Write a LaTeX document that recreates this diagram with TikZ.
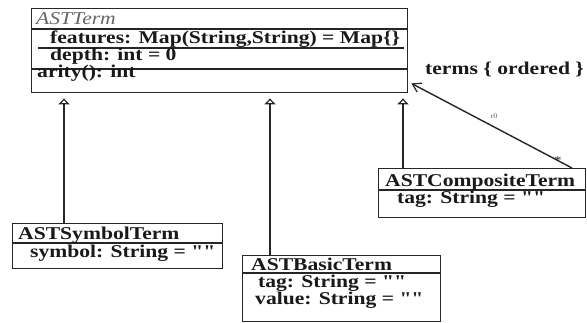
\documentclass[tikz,border=0pt]{standalone}
\usepackage{fontspec}
\setmainfont{Liberation Serif}[FakeStretch=1.2,Ligatures=TeXOff]
\usetikzlibrary{arrows.meta}
\tikzset{
  umlbox/.style={draw=black!85, line width=1.4pt, inner sep=0pt, anchor=north west},
  sep/.style={draw=black!85, line width=1.4pt},
  txt/.style={anchor=base west, inner sep=0pt, font=\fontsize{18}{19}\selectfont\bfseries, text=black!90},
  inherit/.style={draw=black!85, line width=1.4pt, shorten >=5pt,
    -{Triangle[open,length=6pt,width=11pt,line width=1.2pt]}},
  assoc/.style={draw=black!85, line width=1.4pt,
    -{Straight Barb[length=8pt,width=10pt,line width=1.2pt]}},
  tinylbl/.style={inner sep=0pt, font=\fontsize{7}{7}\selectfont, text=black!60}
}
\begin{document}
\begin{tikzpicture}[x=1pt,y=-1pt]
\fill[white] (0,0) rectangle (587,323);
\useasboundingbox (0,0) rectangle (587,323);

% ASTTerm
\node[umlbox, minimum width=376pt, minimum height=84pt] (term) at (31,8) {};
\draw[sep] ([yshift=-21pt]term.north west) -- ([yshift=-21pt]term.north east);
\draw[sep] ([xshift=7pt,yshift=-40pt]term.north west) -- ([xshift=-4pt,yshift=-40pt]term.north east);
\draw[sep] ([yshift=-61pt]term.north west) -- ([yshift=-61pt]term.north east);
\node[txt, font=\fontsize{18}{19}\selectfont\itshape, text=black!60] (termname) at (36,25) {ASTTerm};
\node[txt] (features) at (50,44) {features: Map(String,String) = Map\{\}};
\node[txt] (depth) at (50,61) {depth: int = 0};
\node[txt] (arity) at (37,78) {arity(): int};

% ASTCompositeTerm
\node[umlbox, minimum width=207pt, minimum height=49pt] (comp) at (378,168) {};
\draw[sep] ([yshift=-22pt]comp.north west) -- ([yshift=-22pt]comp.north east);
\node[txt] (compname) at (385,187) {ASTCompositeTerm};
\node[txt] (comptag) at (397,204) {tag: String = ""};

% ASTSymbolTerm
\node[umlbox, minimum width=210pt, minimum height=45pt] (symbol) at (12,223) {};
\draw[sep] ([yshift=-20pt]symbol.north west) -- ([yshift=-20pt]symbol.north east);
\node[txt] (symname) at (18,240) {ASTSymbolTerm};
\node[txt] (symattr) at (30,258) {symbol: String = ""};

% ASTBasicTerm
\node[umlbox, minimum width=198pt, minimum height=66pt] (basic) at (242,255) {};
\draw[sep] ([yshift=-18pt]basic.north west) -- ([yshift=-18pt]basic.north east);
\node[txt] (basname) at (251,271) {ASTBasicTerm};
\node[txt] (bastag) at (258,288) {tag: String = ""};
\node[txt] (basval) at (255,305) {value: String = ""};

% inheritance
\coordinate (i1) at (64,0);
\coordinate (i2) at (270,0);
\coordinate (i3) at (403,0);
\draw[inherit] (symbol.north -| i1) -- (term.south -| i1);
\draw[inherit] (basic.north -| i2) -- (term.south -| i2);
\draw[inherit] (comp.north -| i3) -- (term.south -| i3);

% association
\coordinate (a1) at (572,0);
\draw[assoc] (comp.north -| a1) -- ([xshift=3pt,yshift=10pt]term.south east);
\node[txt, anchor=base west] (rolename) at (425,75) {terms \{ ordered \}};
\node[tinylbl] (midlbl) at (494,116) {r0};
\node[inner sep=0pt, font=\fontsize{12}{12}\selectfont, text=black!85] (mult) at (558,161) {*};
\end{tikzpicture}
\end{document}
